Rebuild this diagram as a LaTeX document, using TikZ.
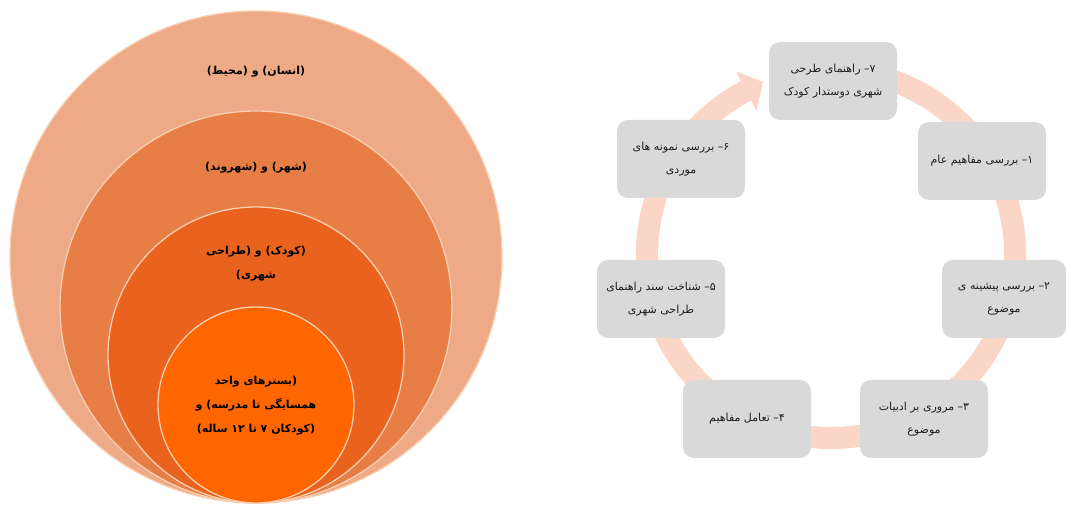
\documentclass[tikz,border=0pt]{standalone}
\usepackage{fontspec}
\newfontfamily\fatext[Script=Arabic]{DejaVu Sans}
\TeXXeTstate=1
\definecolor{discA}{RGB}{238,170,134}
\definecolor{discB}{RGB}{231,126,70}
\definecolor{discC}{RGB}{233,99,30}
\definecolor{discD}{RGB}{255,102,0}
\definecolor{rimc}{RGB}{250,206,176}
\definecolor{ringc}{RGB}{251,214,198}
\definecolor{boxc}{RGB}{217,217,217}
\definecolor{txtc}{RGB}{30,30,30}

\begin{document}
\begin{tikzpicture}[x=1pt,y=1pt,
  disc/.style={draw=rimc,line width=1.3pt},
  lbl/.style={align=center,text=black,font=\fatext\bfseries\fontsize{11}{24}\selectfont},
  stage/.style={fill=boxc,rounded corners=11pt,minimum width=128pt,minimum height=78pt,
    align=center,text=txtc,font=\fatext\fontsize{11}{23}\selectfont}]
 \newcommand{\num}[1]{\mbox{#1}\mbox{–}}
 \useasboundingbox (0,0) rectangle (1066,505);

 % nested circles
 \fill[discA,disc] (256,248) circle (246);
 \fill[discB,disc] (256,198) circle (196);
 \fill[discC,disc] (256,150) circle (148);
 \fill[discD,disc] (256,100) circle (98);

 \node[lbl] (L1) at(256,433) {\beginR(انسان) و (محیط)\endR};
 \node[lbl] (L2) at(256,337) {\beginR(شهر) و (شهروند)\endR};
 \node[lbl] (L3) at(256,241) {\beginR(کودک) و (طراحی\endR\\\beginR شهری)\endR};
 \node[lbl] (L4) at(256,99) {\beginR(بسترهای واحد\endR\\\beginR همسایگی تا مدرسه) و\endR\\\beginR(کودکان ۷ تا ۱۲ ساله)\endR};

 % cycle arrow
 \begin{scope}[shift={(831,251)}]
 \fill[ringc] (72:195) arc[start angle=72,end angle=-242.5,radius=195]
   -- (-242.5:206) -- (-248.4:185) -- (-242.5:161) -- (-242.5:173)
   arc[start angle=-242.5,end angle=72,radius=173] -- cycle;
 \end{scope}

 \node[stage] (S7) at(833,424) {\beginR\num{۷} راهنمای طرحی\endR\\\beginR شهری دوستدار کودک\endR};
 \node[stage] (S1) at(982,344) {\beginR\num{۱} بررسی مفاهیم عام\endR};
 \node[stage,minimum width=124pt] (S2) at(1004,206) {\beginR\num{۲} بررسی پیشینه ی\endR\\\beginR موضوع\endR};
 \node[stage] (S3) at(924,86) {\beginR\num{۳} مروری بر ادبیات\endR\\\beginR موضوع\endR};
 \node[stage] (S4) at(747,86) {\beginR\num{۴} تعامل مفاهیم\endR};
 \node[stage] (S5) at(661,206) {\beginR\num{۵} شناخت سند راهنمای\endR\\\beginR طراحی شهری\endR};
 \node[stage] (S6) at(681,346) {\beginR\num{۶} بررسی نمونه های\endR\\\beginR موردی\endR};

\end{tikzpicture}
\end{document}
